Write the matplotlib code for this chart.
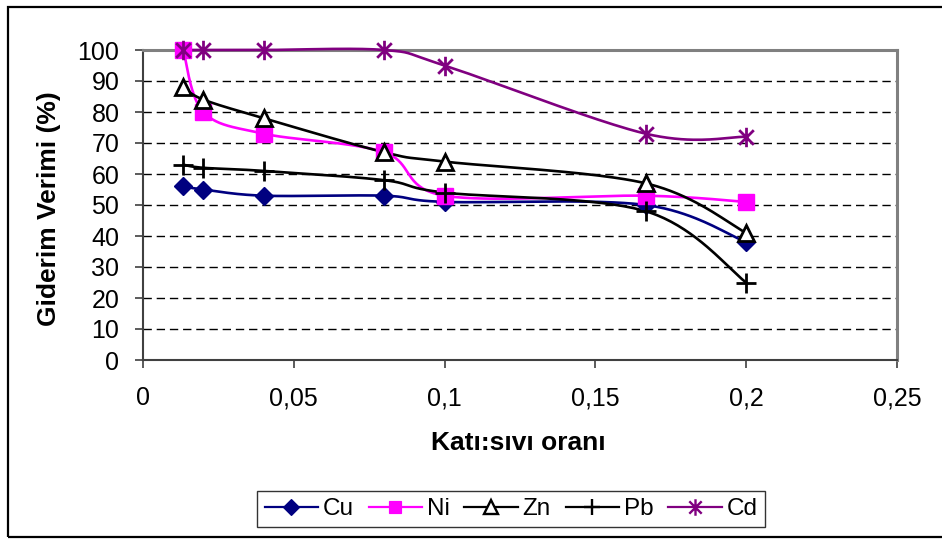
import numpy as np
import matplotlib
matplotlib.use("Agg")
import matplotlib.pyplot as plt
from matplotlib.path import Path
from matplotlib.patches import Rectangle
from matplotlib.lines import Line2D
from matplotlib.ticker import FuncFormatter

plt.rcParams['font.family'] = ['Liberation Sans', 'DejaVu Sans']

x_vals = [1/75, 0.02, 0.04, 0.08, 0.1, 1/6, 0.2]
cu = [56, 55, 53, 53, 51, 50, 38]
ni = [100, 80, 73, 67, 53, 53, 51]
zn = [88, 84, 78, 67, 64, 57, 41]
pb = [63, 62, 61, 58, 54, 48, 25]
cd = [100, 100, 100, 100, 95, 73, 72]
series_names = ["Cu", "Ni", "Zn", "Pb", "Cd"]
x_ticks = [0, 0.05, 0.1, 0.15, 0.2, 0.25]
y_ticks = list(range(0, 101, 10))

W, H = 942, 539
fig = plt.figure(figsize=(W/100, H/100), dpi=100)
ax = fig.add_axes([143/W, (H-360)/H, 754/W, 310/H])
ax.set_xlim(0, 0.25)
ax.set_ylim(0, 100)

sx = 754/0.25
sy = 310/100.0

def smooth(xs, ys, n=40):
    P = np.column_stack([np.array(xs)*sx, np.array(ys)*sy])
    out = []
    m = len(P)
    for i in range(m-1):
        p0 = P[i-1] if i > 0 else P[i]
        p1 = P[i]
        p2 = P[i+1]
        p3 = P[i+2] if i+2 < m else P[i+1]
        c1 = p1 + (p2 - p0)/6.0
        c2 = p2 - (p3 - p1)/6.0
        t = np.linspace(0, 1, n)[:, None]
        seg = (1-t)**3*p1 + 3*(1-t)**2*t*c1 + 3*(1-t)*t**2*c2 + t**3*p2
        out.append(seg if i == 0 else seg[1:])
    out = np.vstack(out)
    return out[:, 0]/sx, out[:, 1]/sy

star = Path([(0, -1), (0, 1), (-0.75, -0.75), (0.75, 0.75), (-0.75, 0.75), (0.75, -0.75)],
            [Path.MOVETO, Path.LINETO, Path.MOVETO, Path.LINETO, Path.MOVETO, Path.LINETO])

styles = [
    dict(color="#000080", marker="D", ms=9, mfc="#000080", mec="#000080", mew=1),
    dict(color="#FF00FF", marker="s", ms=11, mfc="#FF00FF", mec="#FF00FF", mew=1),
    dict(color="black", marker="^", ms=12, mfc="white", mec="black", mew=2.0),
    dict(color="black", marker="+", ms=14, mfc="black", mec="black", mew=2.0),
    dict(color="#800080", marker=star, ms=14, mfc="#800080", mec="#800080", mew=2.0),
]
data = [cu, ni, zn, pb, cd]

handles = []
for name, ys, st in zip(series_names, data, styles):
    xs_s, ys_s = smooth(x_vals, ys)
    ax.plot(xs_s, ys_s, color=st["color"], lw=1.9, zorder=5, clip_on=False,
            solid_capstyle='round')
    ax.plot(x_vals, ys, linestyle='none', marker=st["marker"], ms=st["ms"],
            mfc=st["mfc"], mec=st["mec"], mew=st["mew"], zorder=6, clip_on=False)
    handles.append(Line2D([0], [0], color=st["color"], lw=1.6, marker=st["marker"],
                          ms=st["ms"]*0.85, mfc=st["mfc"], mec=st["mec"], mew=st["mew"]*0.85,
                          label=name))

for yv in y_ticks[1:-1]:
    ax.axhline(yv, color="black", lw=1.0, ls=(0, (6, 3.5)), zorder=1)

ax.set_xticks(x_ticks)
ax.set_yticks(y_ticks)
ax.xaxis.set_major_formatter(FuncFormatter(lambda v, p: ("%g" % round(v, 4)).replace(".", ",")))
ax.tick_params(axis='both', direction='out', length=6, width=1.2, colors='#404040',
               labelcolor='black', labelsize=18)
ax.tick_params(axis='y', pad=11)
ax.tick_params(axis='x', pad=13)

for side in ['top', 'right']:
    ax.spines[side].set_color('#808080')
    ax.spines[side].set_linewidth(2.2)
for side in ['left', 'bottom']:
    ax.spines[side].set_color('#404040')
    ax.spines[side].set_linewidth(1.5)

fig.text(49/W, 1 - 209/H, "Giderim Verimi (%)", fontsize=19, fontweight='bold',
         rotation=90, ha='center', va='center')
fig.text(518/W, 1 - 443/H, "Katı:sıvı oranı", fontsize=19, fontweight='bold',
         ha='center', va='center')

leg = fig.legend(handles=handles, loc='center', bbox_to_anchor=(511/W, 1 - 509/H),
                 ncol=5, fontsize=17.5, frameon=True, fancybox=False, edgecolor='black',
                 handlelength=2.2, handletextpad=0.2, columnspacing=0.6, borderpad=0.3,
                 borderaxespad=0)
leg.get_frame().set_linewidth(1.0)

fig.patches.append(Rectangle((8/W, 2/H), 1.2, 1 - 9/H, transform=fig.transFigure,
                             fill=False, edgecolor='black', lw=1.6))

fig.savefig("out.png", dpi=100)
